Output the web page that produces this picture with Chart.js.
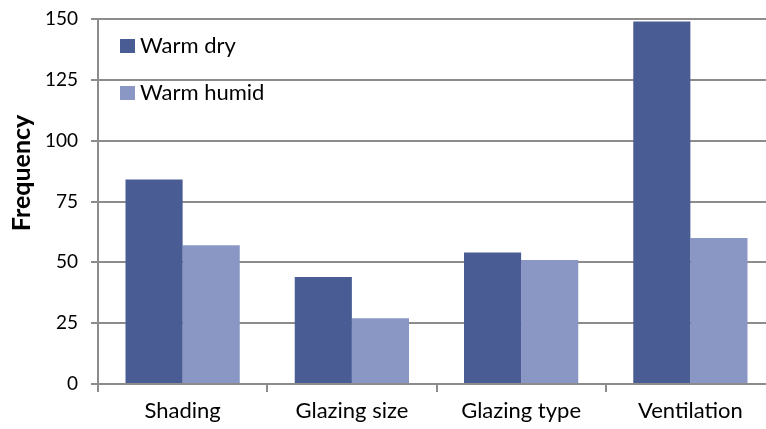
<!DOCTYPE html>
<html><head><meta charset="utf-8">
<script src="https://cdn.jsdelivr.net/npm/chart.js@4/dist/chart.umd.min.js"></script>
<style>
html,body{margin:0;padding:0;background:#fff;overflow:hidden;}
#wrap{width:766px;height:429px;overflow:hidden;position:relative;}
#c{position:absolute;left:0;top:0;}
</style></head>
<body><div id="wrap"><canvas id="c" width="780" height="429"></canvas></div>
<script>
const categories = ["Shading", "Glazing size", "Glazing type", "Ventilation"];
const warmDry = [84, 44, 54, 149];
const warmHumid = [57, 27, 51, 60];
const seriesNames = ["Warm dry", "Warm humid"];
const yTicks = [0, 25, 50, 75, 100, 125, 150];
const yTitle = "Frequency";

const DARK = "#4a5c94";
const LIGHT = "#8a97c4";
const GRID = "#8c8c8c";
const FONT = "Lato, 'Open Sans', sans-serif";

const overlay = {
  id: "overlay",
  afterDraw(chart) {
    const ctx = chart.ctx;
    ctx.save();
    const items = [[seriesNames[0], DARK, 46], [seriesNames[1], LIGHT, 93]];
    ctx.font = "22px " + FONT;
    ctx.textBaseline = "middle";
    ctx.textAlign = "left";
    items.forEach(([t, col, y]) => {
      ctx.fillStyle = col;
      ctx.fillRect(120, y - 7, 15, 14);
      ctx.fillStyle = "#000";
      ctx.fillText(t, 140, y);
    });
    ctx.translate(22, 173);
    ctx.rotate(-Math.PI / 2);
    ctx.font = "bold 25px " + FONT;
    ctx.textAlign = "center";
    ctx.fillText(yTitle, 0, 0);
    ctx.restore();
  }
};

new Chart(document.getElementById("c"), {
  type: "bar",
  data: {
    labels: categories,
    datasets: [
      { label: seriesNames[0], data: warmDry, backgroundColor: DARK, borderWidth: 0 },
      { label: seriesNames[1], data: warmHumid, backgroundColor: LIGHT, borderWidth: 0 }
    ]
  },
  options: {
    responsive: false,
    animation: false,
    events: [],
    layout: { padding: { top: 19, right: 5, left: 0, bottom: 0 } },
    plugins: { legend: { display: false }, tooltip: { enabled: false } },
    datasets: { bar: { categoryPercentage: 0.675, barPercentage: 1.0 } },
    scales: {
      x: {
        grid: { offset: true, drawOnChartArea: false, drawTicks: true, tickLength: 8, color: GRID, lineWidth: 2 },
        border: { display: true, color: GRID, width: 2 },
        ticks: { font: { family: FONT, size: 22 }, color: "#000", padding: 6 },
        afterFit(s) { s.height = 45; s.paddingLeft = 0; s.paddingRight = 0; }
      },
      y: {
        min: 0, max: 150,
        afterBuildTicks(s) { s.ticks = yTicks.map(v => ({ value: v })); },
        grid: { color: GRID, lineWidth: 2, drawTicks: true, tickLength: 7 },
        border: { display: true, color: GRID, width: 2 },
        ticks: { font: { family: FONT, size: 19 }, color: "#000", padding: 13 },
        afterFit(s) { s.width = 98; s.paddingTop = 0; s.paddingBottom = 0; }
      }
    }
  },
  plugins: [overlay]
});
</script></body></html>
